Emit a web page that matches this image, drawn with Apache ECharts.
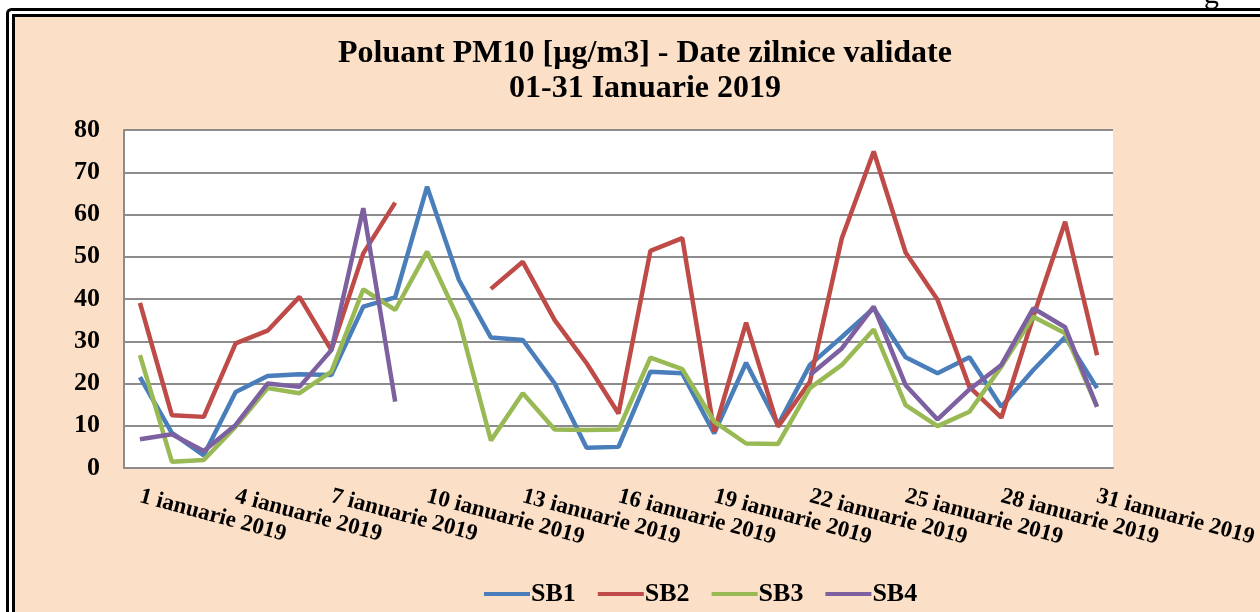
<!DOCTYPE html>
<html>
<head>
<meta charset="utf-8">
<script src="https://cdn.jsdelivr.net/npm/echarts@6/dist/echarts.min.js"></script>
<style>
  html, body { margin: 0; padding: 0; background: #fff; }
  #chart { width: 1260px; height: 612px; }
</style>
</head>
<body>
<div id="chart"></div>
<script>
const days = [];
for (let d = 1; d <= 31; d++) days.push(d + ' ianuarie 2019');

const sb1 = [21.5, 8.3, 3.0, 18.0, 21.8, 22.2, 22.0, 38.2, 40.4, 66.6, 44.5, 30.9, 30.3, 20.0, 4.8, 5.0,
  22.8, 22.4, 8.2, 24.9, 10.2, 24.4, 31.0, 37.8, 26.2, 22.4, 26.2, 14.5, 23.2, 31.0, 18.9];
const sb2 = [39.1, 12.5, 12.1, 29.5, 32.5, 40.5, 27.9, 50.8, 62.8, null, null, 42.4, 48.8, 35.0, 24.8, 12.9,
  51.4, 54.4, 8.6, 34.4, 9.8, 20.4, 54.4, 74.9, 51.0, 39.8, 19.2, 11.9, 35.8, 58.3, 26.7];
const sb3 = [26.7, 1.5, 1.9, 9.8, 18.9, 17.7, 22.8, 42.3, 37.4, 51.2, 35.0, 6.5, 17.7, 9.1, 9.0, 9.1,
  26.1, 23.4, 11.0, 5.8, 5.7, 18.9, 24.4, 32.8, 14.9, 9.9, 13.3, 24.0, 35.8, 31.9, 14.5];
const sb4 = [6.8, 8.0, 4.0, 10.2, 20.0, 19.2, 27.9, 61.5, 15.7, null, null, null, null, null, null, null,
  null, null, null, null, null, 22.0, 28.3, 38.2, 19.6, 11.5, 18.6, 24.4, 37.8, 33.3, 14.5];

const seriesNames = ['SB1', 'SB2', 'SB3', 'SB4'];
const seriesColors = ['#4a7ebb', '#be4b48', '#98b954', '#7d60a0'];
const seriesData = [sb1, sb2, sb3, sb4];

const serif = '"Liberation Serif", "Times New Roman", serif';
const peach = '#fbdfc6';

const chart = echarts.init(document.getElementById('chart'));
chart.setOption({
  backgroundColor: '#fff',
  animation: false,
  graphic: [
    {
      type: 'rect', z: -10, silent: true,
      shape: { x: 7.5, y: 9.5, width: 1300, height: 700, r: 4 },
      style: { fill: '#fff', stroke: '#000', lineWidth: 3 }
    },
    {
      type: 'rect', z: -9, silent: true,
      shape: { x: 13.5, y: 15.5, width: 1300, height: 700 },
      style: { fill: peach, stroke: '#000', lineWidth: 3 }
    },
    {
      type: 'text', z: -8, silent: true, left: 1204, top: -20,
      style: { text: 'g', font: '30px ' + serif, fill: '#000' }
    }
  ],
  title: {
    text: 'Poluant PM10 [µg/m3] - Date zilnice validate\n01-31 Ianuarie 2019',
    left: 640,
    textAlign: 'center',
    top: 31,
    textStyle: { fontFamily: serif, fontSize: 32, fontWeight: 'bold', color: '#000', lineHeight: 35 }
  },
  legend: {
    left: 479,
    top: 576,
    icon: 'rect',
    itemWidth: 46,
    itemHeight: 4,
    itemGap: 22,
    data: seriesNames,
    textStyle: { fontFamily: serif, fontSize: 26, fontWeight: 'bold', color: '#000', padding: [0, 0, 0, -4] }
  },
  grid: {
    left: 124, right: 147, top: 130, bottom: 144,
    show: true, backgroundColor: '#fff', borderWidth: 0
  },
  xAxis: {
    type: 'category',
    data: days,
    boundaryGap: true,
    axisLine: { lineStyle: { color: '#8c8c8c', width: 2 } },
    axisTick: { show: false },
    axisLabel: {
      interval: 2,
      rotate: -15,
      margin: 28,
      fontFamily: serif, fontSize: 23, fontWeight: 'bold', color: '#000'
    }
  },
  yAxis: {
    type: 'value',
    min: 0, max: 80, interval: 10,
    axisLine: { show: true, lineStyle: { color: '#8c8c8c', width: 2 } },
    axisTick: { show: false },
    splitLine: { lineStyle: { color: '#8c8c8c', width: 2 } },
    axisLabel: { margin: 24, fontFamily: serif, fontSize: 26, fontWeight: 'bold', color: '#000' }
  },
  series: seriesNames.map((name, i) => ({
    name: name,
    type: 'line',
    data: seriesData[i],
    symbol: 'none',
    connectNulls: false,
    color: seriesColors[i],
    lineStyle: { width: 4.5, color: seriesColors[i] }
  }))
});
</script>
</body>
</html>
